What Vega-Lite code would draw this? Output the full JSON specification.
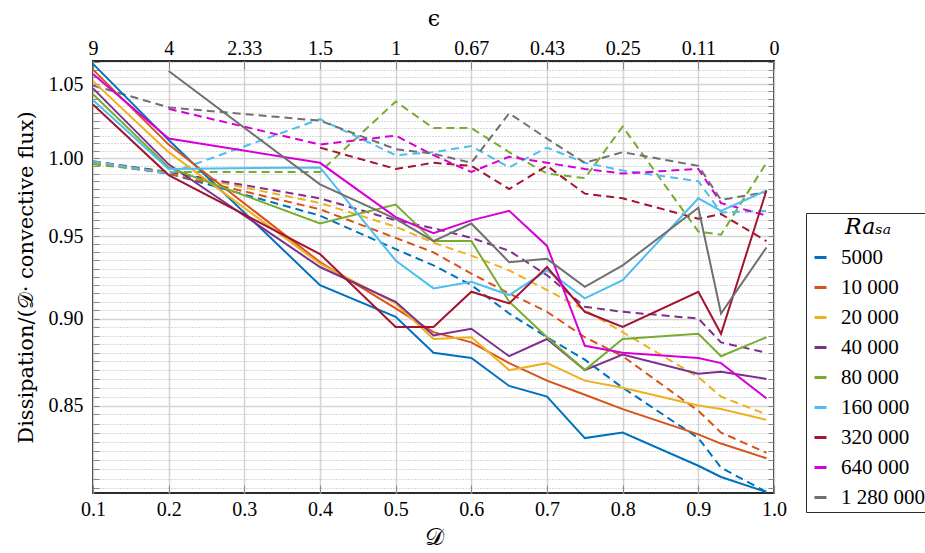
{
  "$schema": "https://vega.github.io/schema/vega-lite/v6.json",
  "width": 681,
  "height": 432,
  "autosize": {"type": "none"},
  "padding": {"left": 93, "top": 61, "right": 151, "bottom": 60},
  "background": "white",
  "config": {
    "view": {"stroke": "#2b2b2b", "strokeWidth": 2},
    "axis": {"labelFontSize": 20, "labelColor": "black", "titleFontWeight": "normal", "titleColor": "black", "domain": false}
  },
  "datasets": {
    "solid": [
      {"D":0.1,"v":1.064,"Ra":"5000"},{"D":0.2,"v":1.012,"Ra":"5000"},{"D":0.4,"v":0.920,"Ra":"5000"},{"D":0.5,"v":0.901,"Ra":"5000"},{"D":0.55,"v":0.880,"Ra":"5000"},{"D":0.6,"v":0.877,"Ra":"5000"},{"D":0.65,"v":0.861,"Ra":"5000"},{"D":0.7,"v":0.855,"Ra":"5000"},{"D":0.75,"v":0.832,"Ra":"5000"},{"D":0.8,"v":0.835,"Ra":"5000"},{"D":0.9,"v":0.817,"Ra":"5000"},{"D":0.93,"v":0.811,"Ra":"5000"},{"D":0.99,"v":0.803,"Ra":"5000"},
      {"D":0.1,"v":1.060,"Ra":"10 000"},{"D":0.2,"v":1.009,"Ra":"10 000"},{"D":0.4,"v":0.934,"Ra":"10 000"},{"D":0.5,"v":0.906,"Ra":"10 000"},{"D":0.55,"v":0.892,"Ra":"10 000"},{"D":0.6,"v":0.886,"Ra":"10 000"},{"D":0.65,"v":0.874,"Ra":"10 000"},{"D":0.7,"v":0.864,"Ra":"10 000"},{"D":0.75,"v":0.856,"Ra":"10 000"},{"D":0.8,"v":0.848,"Ra":"10 000"},{"D":0.9,"v":0.834,"Ra":"10 000"},{"D":0.93,"v":0.829,"Ra":"10 000"},{"D":0.99,"v":0.821,"Ra":"10 000"},
      {"D":0.1,"v":1.052,"Ra":"20 000"},{"D":0.2,"v":1.004,"Ra":"20 000"},{"D":0.4,"v":0.933,"Ra":"20 000"},{"D":0.5,"v":0.909,"Ra":"20 000"},{"D":0.55,"v":0.888,"Ra":"20 000"},{"D":0.6,"v":0.889,"Ra":"20 000"},{"D":0.65,"v":0.870,"Ra":"20 000"},{"D":0.7,"v":0.874,"Ra":"20 000"},{"D":0.75,"v":0.864,"Ra":"20 000"},{"D":0.8,"v":0.860,"Ra":"20 000"},{"D":0.9,"v":0.850,"Ra":"20 000"},{"D":0.93,"v":0.848,"Ra":"20 000"},{"D":0.99,"v":0.842,"Ra":"20 000"},
      {"D":0.1,"v":1.047,"Ra":"40 000"},{"D":0.2,"v":0.996,"Ra":"40 000"},{"D":0.4,"v":0.931,"Ra":"40 000"},{"D":0.5,"v":0.910,"Ra":"40 000"},{"D":0.55,"v":0.890,"Ra":"40 000"},{"D":0.6,"v":0.894,"Ra":"40 000"},{"D":0.65,"v":0.878,"Ra":"40 000"},{"D":0.7,"v":0.888,"Ra":"40 000"},{"D":0.75,"v":0.870,"Ra":"40 000"},{"D":0.8,"v":0.879,"Ra":"40 000"},{"D":0.9,"v":0.868,"Ra":"40 000"},{"D":0.93,"v":0.869,"Ra":"40 000"},{"D":0.99,"v":0.865,"Ra":"40 000"},
      {"D":0.1,"v":1.043,"Ra":"80 000"},{"D":0.2,"v":0.994,"Ra":"80 000"},{"D":0.4,"v":0.958,"Ra":"80 000"},{"D":0.5,"v":0.970,"Ra":"80 000"},{"D":0.55,"v":0.947,"Ra":"80 000"},{"D":0.6,"v":0.947,"Ra":"80 000"},{"D":0.65,"v":0.910,"Ra":"80 000"},{"D":0.7,"v":0.889,"Ra":"80 000"},{"D":0.75,"v":0.870,"Ra":"80 000"},{"D":0.8,"v":0.888,"Ra":"80 000"},{"D":0.9,"v":0.891,"Ra":"80 000"},{"D":0.93,"v":0.878,"Ra":"80 000"},{"D":0.99,"v":0.889,"Ra":"80 000"},
      {"D":0.1,"v":1.039,"Ra":"160 000"},{"D":0.2,"v":0.993,"Ra":"160 000"},{"D":0.4,"v":0.994,"Ra":"160 000"},{"D":0.5,"v":0.935,"Ra":"160 000"},{"D":0.55,"v":0.918,"Ra":"160 000"},{"D":0.6,"v":0.922,"Ra":"160 000"},{"D":0.65,"v":0.914,"Ra":"160 000"},{"D":0.7,"v":0.929,"Ra":"160 000"},{"D":0.75,"v":0.912,"Ra":"160 000"},{"D":0.8,"v":0.923,"Ra":"160 000"},{"D":0.9,"v":0.974,"Ra":"160 000"},{"D":0.93,"v":0.966,"Ra":"160 000"},{"D":0.99,"v":0.979,"Ra":"160 000"},
      {"D":0.1,"v":1.036,"Ra":"320 000"},{"D":0.2,"v":0.989,"Ra":"320 000"},{"D":0.4,"v":0.939,"Ra":"320 000"},{"D":0.5,"v":0.895,"Ra":"320 000"},{"D":0.55,"v":0.895,"Ra":"320 000"},{"D":0.6,"v":0.916,"Ra":"320 000"},{"D":0.65,"v":0.909,"Ra":"320 000"},{"D":0.7,"v":0.931,"Ra":"320 000"},{"D":0.75,"v":0.904,"Ra":"320 000"},{"D":0.8,"v":0.895,"Ra":"320 000"},{"D":0.9,"v":0.916,"Ra":"320 000"},{"D":0.93,"v":0.891,"Ra":"320 000"},{"D":0.99,"v":0.979,"Ra":"320 000"},
      {"D":0.1,"v":1.057,"Ra":"640 000"},{"D":0.2,"v":1.013,"Ra":"640 000"},{"D":0.4,"v":0.997,"Ra":"640 000"},{"D":0.5,"v":0.962,"Ra":"640 000"},{"D":0.55,"v":0.952,"Ra":"640 000"},{"D":0.6,"v":0.960,"Ra":"640 000"},{"D":0.65,"v":0.966,"Ra":"640 000"},{"D":0.7,"v":0.944,"Ra":"640 000"},{"D":0.75,"v":0.884,"Ra":"640 000"},{"D":0.8,"v":0.880,"Ra":"640 000"},{"D":0.9,"v":0.877,"Ra":"640 000"},{"D":0.93,"v":0.874,"Ra":"640 000"},{"D":0.99,"v":0.854,"Ra":"640 000"},
      {"D":0.2,"v":1.059,"Ra":"1 280 000"},{"D":0.4,"v":0.983,"Ra":"1 280 000"},{"D":0.5,"v":0.961,"Ra":"1 280 000"},{"D":0.55,"v":0.947,"Ra":"1 280 000"},{"D":0.6,"v":0.958,"Ra":"1 280 000"},{"D":0.65,"v":0.934,"Ra":"1 280 000"},{"D":0.7,"v":0.936,"Ra":"1 280 000"},{"D":0.75,"v":0.919,"Ra":"1 280 000"},{"D":0.8,"v":0.932,"Ra":"1 280 000"},{"D":0.9,"v":0.968,"Ra":"1 280 000"},{"D":0.93,"v":0.903,"Ra":"1 280 000"},{"D":0.99,"v":0.943,"Ra":"1 280 000"}
    ],
    "dashed": [
      {"D":0.1,"v":0.997,"Ra":"5000"},{"D":0.2,"v":0.990,"Ra":"5000"},{"D":0.4,"v":0.963,"Ra":"5000"},{"D":0.5,"v":0.942,"Ra":"5000"},{"D":0.55,"v":0.932,"Ra":"5000"},{"D":0.6,"v":0.920,"Ra":"5000"},{"D":0.65,"v":0.903,"Ra":"5000"},{"D":0.7,"v":0.889,"Ra":"5000"},{"D":0.75,"v":0.876,"Ra":"5000"},{"D":0.8,"v":0.860,"Ra":"5000"},{"D":0.9,"v":0.832,"Ra":"5000"},{"D":0.93,"v":0.816,"Ra":"5000"},{"D":0.99,"v":0.803,"Ra":"5000"},
      {"D":0.1,"v":0.997,"Ra":"10 000"},{"D":0.2,"v":0.990,"Ra":"10 000"},{"D":0.4,"v":0.967,"Ra":"10 000"},{"D":0.5,"v":0.949,"Ra":"10 000"},{"D":0.55,"v":0.940,"Ra":"10 000"},{"D":0.6,"v":0.927,"Ra":"10 000"},{"D":0.65,"v":0.915,"Ra":"10 000"},{"D":0.7,"v":0.904,"Ra":"10 000"},{"D":0.75,"v":0.889,"Ra":"10 000"},{"D":0.8,"v":0.878,"Ra":"10 000"},{"D":0.9,"v":0.847,"Ra":"10 000"},{"D":0.93,"v":0.835,"Ra":"10 000"},{"D":0.99,"v":0.824,"Ra":"10 000"},
      {"D":0.1,"v":0.997,"Ra":"20 000"},{"D":0.2,"v":0.991,"Ra":"20 000"},{"D":0.4,"v":0.971,"Ra":"20 000"},{"D":0.5,"v":0.956,"Ra":"20 000"},{"D":0.55,"v":0.946,"Ra":"20 000"},{"D":0.6,"v":0.938,"Ra":"20 000"},{"D":0.65,"v":0.929,"Ra":"20 000"},{"D":0.7,"v":0.917,"Ra":"20 000"},{"D":0.75,"v":0.905,"Ra":"20 000"},{"D":0.8,"v":0.892,"Ra":"20 000"},{"D":0.9,"v":0.866,"Ra":"20 000"},{"D":0.93,"v":0.855,"Ra":"20 000"},{"D":0.99,"v":0.845,"Ra":"20 000"},
      {"D":0.1,"v":0.998,"Ra":"40 000"},{"D":0.2,"v":0.991,"Ra":"40 000"},{"D":0.4,"v":0.974,"Ra":"40 000"},{"D":0.5,"v":0.960,"Ra":"40 000"},{"D":0.55,"v":0.955,"Ra":"40 000"},{"D":0.6,"v":0.949,"Ra":"40 000"},{"D":0.65,"v":0.941,"Ra":"40 000"},{"D":0.7,"v":0.926,"Ra":"40 000"},{"D":0.75,"v":0.907,"Ra":"40 000"},{"D":0.8,"v":0.904,"Ra":"40 000"},{"D":0.9,"v":0.900,"Ra":"40 000"},{"D":0.93,"v":0.886,"Ra":"40 000"},{"D":0.99,"v":0.880,"Ra":"40 000"},
      {"D":0.1,"v":0.996,"Ra":"80 000"},{"D":0.2,"v":0.991,"Ra":"80 000"},{"D":0.4,"v":0.991,"Ra":"80 000"},{"D":0.5,"v":1.038,"Ra":"80 000"},{"D":0.55,"v":1.020,"Ra":"80 000"},{"D":0.6,"v":1.020,"Ra":"80 000"},{"D":0.65,"v":1.004,"Ra":"80 000"},{"D":0.7,"v":0.990,"Ra":"80 000"},{"D":0.75,"v":0.987,"Ra":"80 000"},{"D":0.8,"v":1.021,"Ra":"80 000"},{"D":0.9,"v":0.953,"Ra":"80 000"},{"D":0.93,"v":0.951,"Ra":"80 000"},{"D":0.99,"v":0.997,"Ra":"80 000"},
      {"D":0.1,"v":0.998,"Ra":"160 000"},{"D":0.2,"v":0.990,"Ra":"160 000"},{"D":0.4,"v":1.026,"Ra":"160 000"},{"D":0.5,"v":1.002,"Ra":"160 000"},{"D":0.55,"v":1.004,"Ra":"160 000"},{"D":0.6,"v":1.008,"Ra":"160 000"},{"D":0.65,"v":0.994,"Ra":"160 000"},{"D":0.7,"v":1.007,"Ra":"160 000"},{"D":0.75,"v":0.997,"Ra":"160 000"},{"D":0.8,"v":0.992,"Ra":"160 000"},{"D":0.9,"v":0.985,"Ra":"160 000"},{"D":0.93,"v":0.965,"Ra":"160 000"},{"D":0.99,"v":0.966,"Ra":"160 000"},
      {"D":0.4,"v":1.007,"Ra":"320 000"},{"D":0.5,"v":0.993,"Ra":"320 000"},{"D":0.55,"v":0.997,"Ra":"320 000"},{"D":0.6,"v":0.995,"Ra":"320 000"},{"D":0.65,"v":0.980,"Ra":"320 000"},{"D":0.7,"v":0.995,"Ra":"320 000"},{"D":0.75,"v":0.977,"Ra":"320 000"},{"D":0.8,"v":0.974,"Ra":"320 000"},{"D":0.9,"v":0.961,"Ra":"320 000"},{"D":0.93,"v":0.964,"Ra":"320 000"},{"D":0.99,"v":0.947,"Ra":"320 000"},
      {"D":0.2,"v":1.033,"Ra":"640 000"},{"D":0.4,"v":1.009,"Ra":"640 000"},{"D":0.5,"v":1.015,"Ra":"640 000"},{"D":0.55,"v":1.002,"Ra":"640 000"},{"D":0.6,"v":0.991,"Ra":"640 000"},{"D":0.65,"v":1.001,"Ra":"640 000"},{"D":0.7,"v":0.997,"Ra":"640 000"},{"D":0.75,"v":0.993,"Ra":"640 000"},{"D":0.8,"v":0.990,"Ra":"640 000"},{"D":0.9,"v":0.993,"Ra":"640 000"},{"D":0.93,"v":0.971,"Ra":"640 000"},{"D":0.99,"v":0.963,"Ra":"640 000"},
      {"D":0.1,"v":1.049,"Ra":"1 280 000"},{"D":0.2,"v":1.034,"Ra":"1 280 000"},{"D":0.4,"v":1.025,"Ra":"1 280 000"},{"D":0.5,"v":1.006,"Ra":"1 280 000"},{"D":0.55,"v":1.003,"Ra":"1 280 000"},{"D":0.6,"v":0.997,"Ra":"1 280 000"},{"D":0.65,"v":1.030,"Ra":"1 280 000"},{"D":0.7,"v":1.013,"Ra":"1 280 000"},{"D":0.75,"v":0.997,"Ra":"1 280 000"},{"D":0.8,"v":1.004,"Ra":"1 280 000"},{"D":0.9,"v":0.995,"Ra":"1 280 000"},{"D":0.93,"v":0.973,"Ra":"1 280 000"},{"D":0.99,"v":0.978,"Ra":"1 280 000"}
    ]
  },
  "layer": [
    {
      "data": {"name": "dashed"},
      "mark": {"type": "line", "strokeWidth": 2, "strokeDash": [8, 5]},
      "encoding": {
        "x": {"field": "D", "type": "quantitative",
          "scale": {"domain": [0.1, 1.0], "nice": false, "zero": false},
          "axis": {"orient": "top", "labelFont": "Liberation Serif", "labelFontSize": 20,
            "values": [0.1,0.2,0.3,0.4,0.5,0.6,0.7,0.8,0.9,1.0],
            "labelExpr": "format((1 - datum.value) / datum.value, '.2~f')",
            "labelFlush": false, "labelOverlap": false,
            "grid": false, "tickSize": -8, "labelPadding": 11,
            "title": "ϵ", "titleFont": "DejaVu Serif", "titleFontSize": 22, "titlePadding": 8}},
        "y": {"field": "v", "type": "quantitative",
          "scale": {"type": "log", "domain": [0.8025, 1.066], "nice": false, "zero": false},
          "axis": {"orient": "right", "values": [0.805,0.81,0.815,0.82,0.825,0.83,0.835,0.84,0.845,0.85,0.855,0.86,0.865,0.87,0.875,0.88,0.885,0.89,0.895,0.9,0.905,0.91,0.915,0.92,0.925,0.93,0.935,0.94,0.945,0.95,0.955,0.96,0.965,0.97,0.975,0.98,0.985,0.99,0.995,1,1.005,1.01,1.015,1.02,1.025,1.03,1.035,1.04,1.045,1.05,1.055,1.06,1.065],
            "labels": false, "grid": false, "tickSize": -6, "title": null}},
        "color": {"field": "Ra", "type": "nominal",
          "scale": {"domain": ["5000","10 000","20 000","40 000","80 000","160 000","320 000","640 000","1 280 000"],
            "range": ["#0072BD","#D95319","#EDB120","#7E2F8E","#77AC30","#4DBEEE","#A2142F","#D600D6","#707070"]},
          "legend": {"title": "Raₛₐ", "orient": "none", "legendX": 713, "legendY": 152,
            "strokeColor": "#2b2b2b", "fillColor": "white", "padding": 4,
            "titleFont": "DejaVu Serif", "titleFontStyle": "italic", "titleFontWeight": "normal", "titleFontSize": 22,
            "titleAnchor": "middle", "titlePadding": 8, "titleColor": "black",
            "labelFont": "Liberation Serif", "labelFontSize": 21, "labelColor": "black", "labelOffset": 10,
            "symbolType": "stroke", "symbolSize": 144, "symbolStrokeWidth": 3, "rowPadding": 8}}
      }
    },
    {
      "data": {"name": "solid"},
      "mark": {"type": "line", "strokeWidth": 2},
      "encoding": {
        "x": {"field": "D", "type": "quantitative",
          "scale": {"domain": [0.1, 1.0], "nice": false, "zero": false},
          "axis": {"orient": "bottom", "labelFont": "Liberation Serif", "labelFontSize": 20,
            "values": [0.1,0.2,0.3,0.4,0.5,0.6,0.7,0.8,0.9,1.0], "format": ".1f",
            "labelFlush": false, "labelOverlap": false,
            "grid": true, "gridColor": "#d4d4d4", "gridWidth": 1.5,
            "tickSize": -8, "labelPadding": 14,
            "title": "𝒟", "titleFont": "DejaVu Serif", "titleFontSize": 24, "titlePadding": 6}},
        "y": {"field": "v", "type": "quantitative",
          "scale": {"type": "log", "domain": [0.8025, 1.066], "nice": false, "zero": false},
          "axis": {"orient": "left", "labelFont": "Liberation Serif", "labelFontSize": 20,
            "values": [0.805,0.81,0.815,0.82,0.825,0.83,0.835,0.84,0.845,0.85,0.855,0.86,0.865,0.87,0.875,0.88,0.885,0.89,0.895,0.9,0.905,0.91,0.915,0.92,0.925,0.93,0.935,0.94,0.945,0.95,0.955,0.96,0.965,0.97,0.975,0.98,0.985,0.99,0.995,1,1.005,1.01,1.015,1.02,1.025,1.03,1.035,1.04,1.045,1.05,1.055,1.06,1.065],
            "labelExpr": "abs(datum.value * 20 - round(datum.value * 20)) < 0.001 ? format(datum.value, '.2f') : ''",
            "labelFlush": false, "labelOverlap": false,
            "grid": true,
            "gridDash": {"condition": {"test": "abs(datum.value * 20 - round(datum.value * 20)) < 0.001", "value": []}, "value": [1, 2]},
            "gridColor": {"condition": {"test": "abs(datum.value * 20 - round(datum.value * 20)) < 0.001", "value": "#d4d4d4"}, "value": "#b5b5b5"},
            "gridWidth": {"condition": {"test": "abs(datum.value * 20 - round(datum.value * 20)) < 0.001", "value": 1.5}, "value": 1},
            "tickSize": -6, "labelPadding": 16,
            "title": "Dissipation/(𝒟· convective flux)", "titleFont": "DejaVu Serif", "titleFontSize": 21, "titlePadding": 12}},
        "color": {"field": "Ra", "type": "nominal",
          "scale": {"domain": ["5000","10 000","20 000","40 000","80 000","160 000","320 000","640 000","1 280 000"],
            "range": ["#0072BD","#D95319","#EDB120","#7E2F8E","#77AC30","#4DBEEE","#A2142F","#D600D6","#707070"]},
          "legend": {"title": "Raₛₐ", "orient": "none", "legendX": 713, "legendY": 152,
            "strokeColor": "#2b2b2b", "fillColor": "white", "padding": 4,
            "titleFont": "DejaVu Serif", "titleFontStyle": "italic", "titleFontWeight": "normal", "titleFontSize": 22,
            "titleAnchor": "middle", "titlePadding": 8, "titleColor": "black",
            "labelFont": "Liberation Serif", "labelFontSize": 21, "labelColor": "black", "labelOffset": 10,
            "symbolType": "stroke", "symbolSize": 144, "symbolStrokeWidth": 3, "rowPadding": 8}}
      }
    }
  ],
  "resolve": {"axis": {"x": "independent", "y": "independent"}}
}
